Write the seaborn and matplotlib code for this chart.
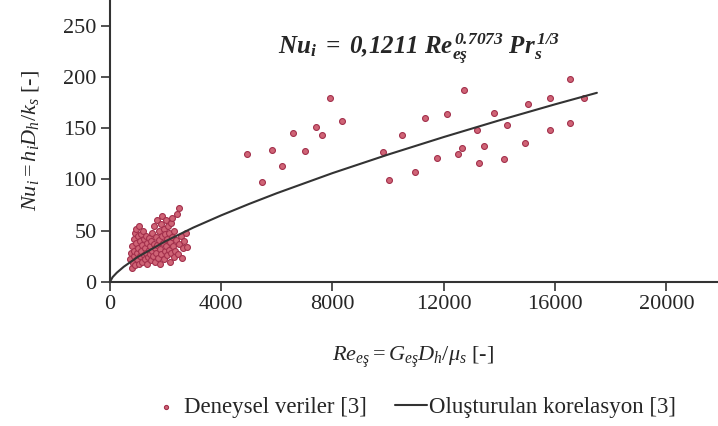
import numpy as np
import pandas as pd
import seaborn as sns
import matplotlib.pyplot as plt

re_low = [720, 760, 790, 800, 830, 850, 870, 880, 900, 910,
          930, 950, 970, 990, 1000, 1020, 1040, 1060, 1080, 1090,
          1110, 1130, 1150, 1170, 1190, 1210, 1230, 1250, 1270, 1290,
          1310, 1330, 1350, 1370, 1390, 1410, 1430, 1450, 1470, 1490,
          1510, 1530, 1550, 1570, 1590, 1610, 1630, 1650, 1670, 1690,
          1710, 1730, 1750, 1770, 1790, 1810, 1830, 1850, 1870, 1890,
          1910, 1930, 1950, 1970, 1990, 2010, 2030, 2050, 2070, 2090,
          2110, 2130, 2150, 2170, 2190, 2210, 2230, 2250, 2270, 2290,
          2320, 2350, 2380, 2410, 2440, 2470, 2500, 2540, 2580, 2620,
          2680, 2760, 2720]
nu_low = [22, 28, 14, 35, 19, 25, 42, 30, 17, 48,
          52, 38, 22, 28, 45, 33, 18, 55, 40, 25,
          47, 30, 20, 36, 50, 26, 42, 22, 33, 45,
          28, 38, 18, 24, 31, 43, 27, 35, 21, 40,
          30, 48, 25, 37, 55, 33, 20, 44, 28, 60,
          36, 23, 50, 41, 18, 32, 57, 27, 45, 64,
          38, 22, 52, 30, 47, 35, 60, 26, 42, 55,
          31, 48, 20, 39, 58, 28, 44, 62, 35, 24,
          50, 30, 41, 66, 27, 37, 72, 45, 23, 33,
          40, 34, 48]

re_high = [4917, 5478, 5817, 6176, 6594, 7014, 7399, 7637, 7914, 8356,
           9809, 10047, 10514, 10971, 11306, 11737, 12112, 12493, 12651, 12734,
           13191, 13263, 13453, 13802, 14147, 14255, 14928, 15011, 15802, 15827,
           16522, 16522, 17040]
nu_high = [124.7, 97.9, 128.6, 113.3, 145.5, 127.9, 151.1, 142.9, 179.0, 157.2,
           127.2, 99.6, 143.3, 107.7, 160.4, 120.8, 163.8, 125.3, 130.2, 187.5,
           148.4, 116.5, 132.8, 164.4, 120.4, 153.3, 135.4, 173.1, 179.4, 148.7,
           198.2, 155.0, 179.4]

# Correlation curve
re_fit = [0, 100, 250, 500, 1000, 2000, 3000, 4000, 5000, 6000,
          8000, 10000, 12000, 14000, 16000, 17500]
nu_fit = [0, 4.8, 9.1, 14.9, 24.4, 39.8, 53.1, 65.0, 76.1, 86.6,
          106.2, 124.3, 141.4, 157.7, 173.3, 184.5]

x_ticks = [0, 4000, 8000, 12000, 16000, 20000]
y_ticks = [0, 50, 100, 150, 200, 250]

df_exp = pd.DataFrame({"Re": re_low + re_high, "Nu": nu_low + nu_high})
df_fit = pd.DataFrame({"Re": re_fit, "Nu": nu_fit})

sns.set_style("ticks")
plt.rcParams["font.family"] = ["Liberation Serif", "DejaVu Serif"]
plt.rcParams["mathtext.fontset"] = "custom"
plt.rcParams["mathtext.rm"] = "Liberation Serif"
plt.rcParams["mathtext.it"] = "Liberation Serif:italic"
plt.rcParams["mathtext.bf"] = "Liberation Serif:bold"
plt.rcParams["mathtext.bfit"] = "Liberation Serif:bold:italic"

fig = plt.figure(figsize=(7.18, 4.26), dpi=100)
ax = fig.add_axes([0.153, 0.338, 0.845, 0.662])

sns.scatterplot(data=df_exp, x="Re", y="Nu", ax=ax, s=18,
                color="#cf6476", edgecolor="#a3304c", linewidth=0.8,
                label="Deneysel veriler [3]", zorder=2)
sns.lineplot(data=df_fit, x="Re", y="Nu", ax=ax, color="#333333",
             linewidth=1.5, label="Oluşturulan korelasyon [3]", zorder=3)

ax.set_xlim(0, 21800)
ax.set_ylim(0, 275)
ax.set_xticks(x_ticks)
ax.set_yticks(y_ticks)
ax.tick_params(labelsize=16, length=6.5, width=1.2, pad=3, color="#333333")
for side in ["left", "bottom"]:
    ax.spines[side].set_linewidth(1.5)
    ax.spines[side].set_color("#333333")
sns.despine(ax=ax)

ax.set_xlabel(r"$Re_{eş} = G_{eş}D_h/\mu_s$ [-]", fontsize=16, labelpad=22)
ax.set_ylabel(r"$Nu_i = h_iD_h/k_s$ [-]", fontsize=16, labelpad=16)

ax.text(6050, 228,
        r"$\mathbfit{Nu_i\ =\ 0{,}1211\ Re_{eş}^{\,0.7073}\ Pr_s^{\,1/3}}$",
        fontsize=18, ha="left", va="center")

leg = ax.legend(loc="center", bbox_to_anchor=(0.575, 0.043),
                bbox_transform=fig.transFigure, ncol=2, frameon=False,
                fontsize=16.5, handlelength=1.4, handletextpad=0.1,
                columnspacing=1.2, markerscale=0.7)

fig.savefig("out.png", dpi=100)
